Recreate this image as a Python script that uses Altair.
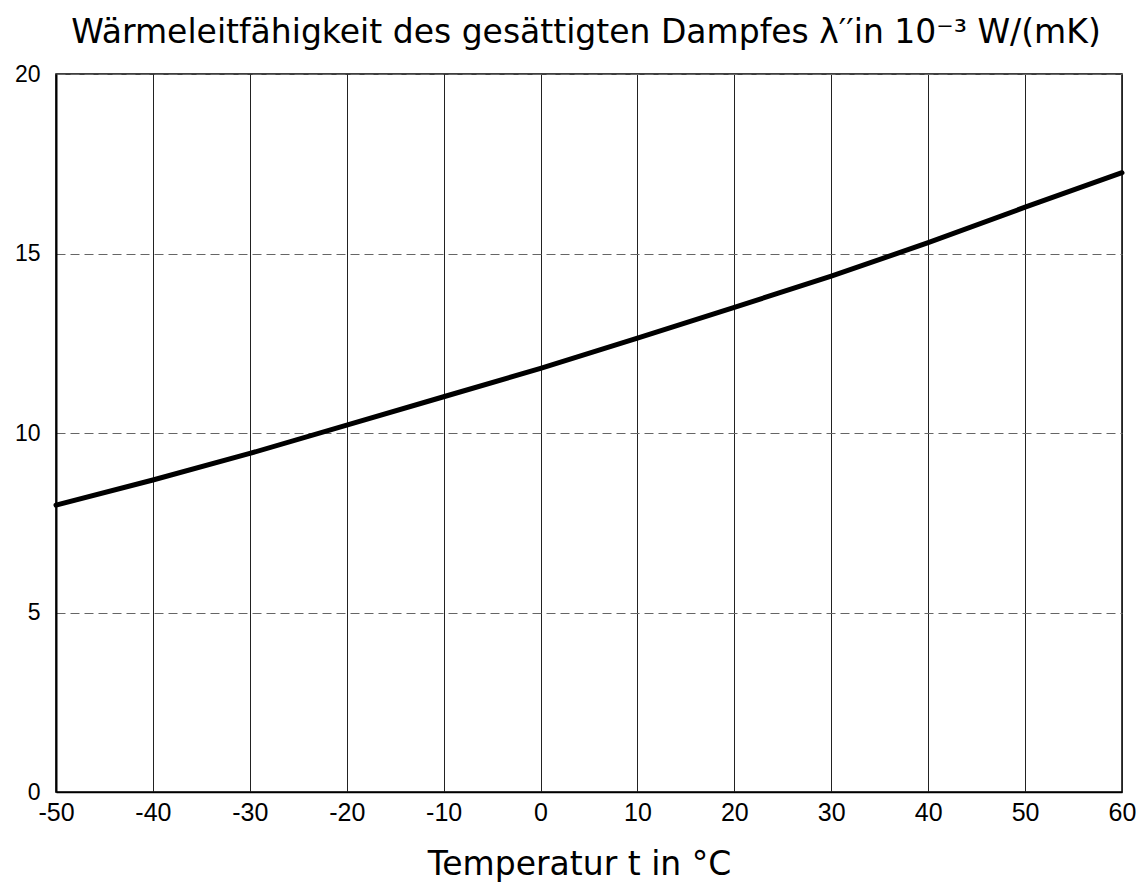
import altair as alt
import pandas as pd

temps = [-50, -40, -30, -20, -10, 0, 10, 20, 30, 40, 50, 60]
lam = [7.99, 8.69, 9.43, 10.22, 11.01, 11.80, 12.64, 13.50, 14.37, 15.30, 16.29, 17.25]
x_ticks = [-50, -40, -30, -20, -10, 0, 10, 20, 30, 40, 50, 60]
y_ticks = [0, 5, 10, 15, 20]

df = pd.DataFrame({"t": temps, "lam": lam})

title_text = "Wärmeleitfähigkeit des gesättigten Dampfes λ′′in 10⁻³ W/(mK)"

chart = alt.Chart(df).mark_line(color="black", strokeWidth=5, strokeCap="round").encode(
    x=alt.X("t:Q", scale=alt.Scale(domain=[-50, 60], nice=False),
            axis=alt.Axis(values=x_ticks, title="Temperatur t in °C", grid=True,
                          gridColor="#222222", gridWidth=1, ticks=False,
                          domainColor="black", domainWidth=1.5,
                          labelExpr="toString(datum.value)", labelFlush=False,
                          labelFont="Liberation Sans", labelFontSize=25, labelColor="black",
                          labelPadding=8,
                          titleFont="DejaVu Sans", titleFontSize=33, titleFontWeight="normal",
                          titleColor="black", titlePadding=23, titleX=523)),
    y=alt.Y("lam:Q", scale=alt.Scale(domain=[0, 20], nice=False),
            axis=alt.Axis(values=y_ticks, title=None, grid=True,
                          gridColor="#666666", gridWidth=1, gridDash=[9, 5], ticks=False,
                          domainColor="black", domainWidth=2,
                          labelFont="Liberation Sans", labelFontSize=23, labelColor="black",
                          labelPadding=16)),
).properties(
    width=1066,
    height=718,
    title=alt.TitleParams(title_text, font="DejaVu Sans", fontSize=33, fontWeight="normal",
                          color="black", anchor="middle", frame="group", dx=-3, offset=13),
    autosize=alt.AutoSizeParams(type="none"),
    padding={"left": 48, "top": 66, "right": 14, "bottom": 91},
).configure_view(stroke="black", strokeWidth=1.5)

chart.save("out.html", embed_options={"renderer": "svg", "actions": False})
